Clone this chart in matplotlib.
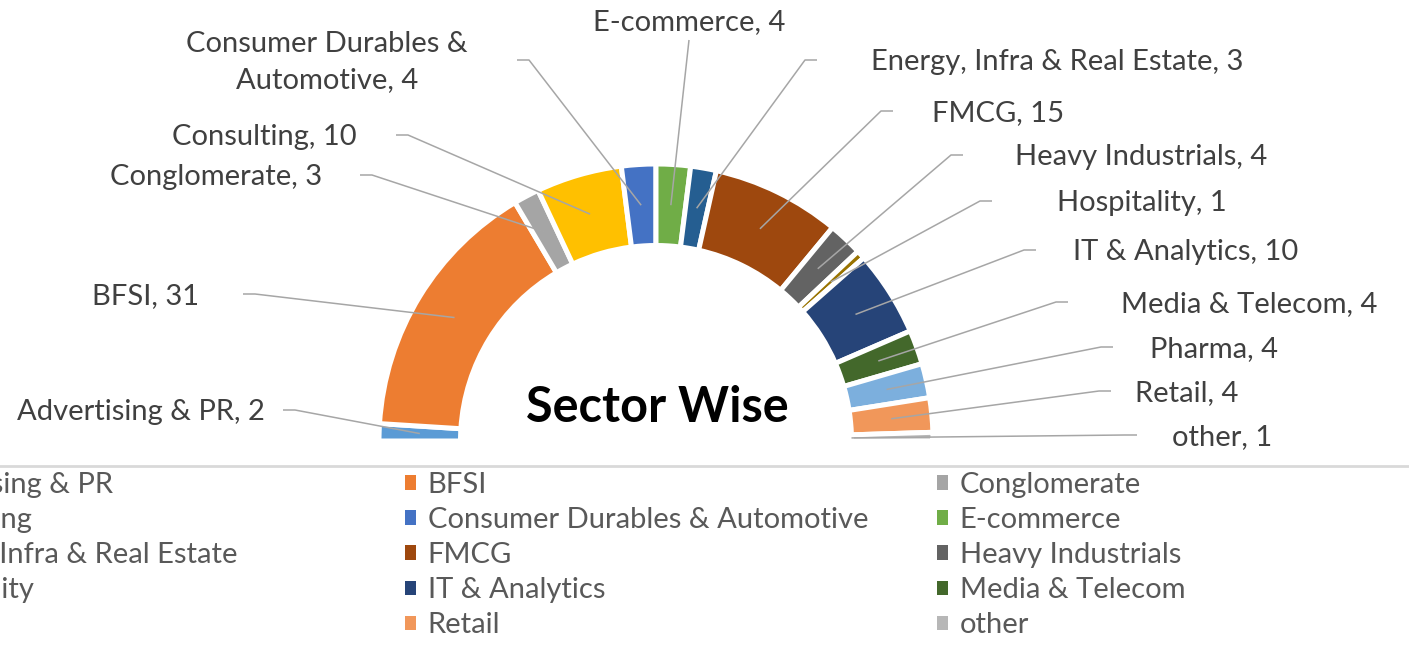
import matplotlib
matplotlib.use("Agg")
import matplotlib.pyplot as plt
import numpy as np

plt.rcParams['font.family'] = ['Lato', 'DejaVu Sans']

# data
sectors = ["Advertising & PR", "BFSI", "Conglomerate", "Consulting",
           "Consumer Durables & Automotive", "E-commerce",
           "Energy, Infra & Real Estate", "FMCG", "Heavy Industrials",
           "Hospitality", "IT & Analytics", "Media & Telecom", "Pharma",
           "Retail", "other"]
counts = [2, 31, 3, 10, 4, 4, 3, 15, 4, 1, 10, 4, 4, 4, 1]
colors = ["#5B9BD5", "#ED7D31", "#A5A5A5", "#FFC000", "#4472C4", "#70AD47",
          "#255E91", "#9E480E", "#636363", "#997300", "#264478", "#43682B",
          "#7CAFDD", "#F1975A", "#B7B7B7"]
title = "Sector Wise"

# layout (pixels, measured from top-left of the 1409x670 picture)
W, H = 1409, 670
CX, CY = 656, 441
RPX = 277.0
RING = 81.5 / RPX
# text x, text y, alignment, x where the leader line starts
label_pos = [
    (265, 412, 'right', 283),
    (199, 296, 'right', 243),
    (322, 177, 'right', 360),
    (357, 137, 'right', 396),
    (327, 62, 'center', 517),
    (689, 22, 'center', None),
    (871, 62, 'left', 817),
    (932, 113, 'left', 893),
    (1015, 157, 'left', 963),
    (1057, 203, 'left', 992),
    (1073, 252, 'left', 1036),
    (1121, 304, 'left', 1068),
    (1150, 349, 'left', 1113),
    (1135, 393, 'left', 1111),
    (1172, 437, 'left', 1137),
]
FS = 21


def px(x, y):
    return ((x - CX) / RPX, (CY - y) / RPX)


fig = plt.figure(figsize=(W / 100, H / 100), dpi=100)
ax = fig.add_axes([0, 0, 1, 1])

total = sum(counts)
wedges, _ = ax.pie(counts + [total], colors=colors + ['white'],
                   startangle=180, counterclock=False, radius=1.0,
                   wedgeprops=dict(width=RING, edgecolor='white', linewidth=3.6))
wedges[-1].set_visible(False)
wedges = wedges[:-1]

ax.set_xlim(px(0, 0)[0], px(W, 0)[0])
ax.set_ylim(px(0, H)[1], px(0, 0)[1])
ax.set_aspect('auto')
ax.axis('off')

# data labels with leader lines
for i, w in enumerate(wedges):
    name = sectors[i]
    if name.startswith("Consumer"):
        name = "Consumer Durables &\nAutomotive"
    txt = f"{name}, {counts[i]}"
    tx, ty, ha, lx = label_pos[i]
    ax.text(*px(tx, ty), txt, ha=ha, va='center', fontsize=FS,
            color='#404040', linespacing=1.52)
    mid = np.deg2rad((w.theta1 + w.theta2) / 2)
    rm = w.r - w.width / 2
    if sectors[i] == "other":
        rm = w.r - w.width
    ex, ey = rm * np.cos(mid), rm * np.sin(mid)
    if lx is None:
        sx, sy = px(tx, ty + 18)
        xs, ys = [sx, ex], [sy, ey]
    else:
        ly = 60 if i == 4 else ty - 2
        bx = lx + 12 if ha in ('right', 'center') else lx - 12
        p0 = px(lx, ly)
        p1 = px(bx, ly)
        xs, ys = [p0[0], p1[0], ex], [p0[1], p1[1], ey]
    ax.plot(xs, ys, color='#A6A6A6', lw=1.1, solid_capstyle='butt')

ax.text(*px(657, 408), title, ha='center', va='center', fontsize=35,
        fontweight='bold', color='black')

# separator line above legend
fig.add_artist(plt.Line2D([0, 1], [1 - 466 / H, 1 - 466 / H],
                          transform=fig.transFigure, color='#D9D9D9', lw=2))

# legend, three equal columns
col_x = [-127, 405, 937]
for c in range(3):
    idx = list(range(c, len(sectors), 3))
    leg = fig.legend([wedges[k] for k in idx], [sectors[k] for k in idx],
                     loc='upper left', bbox_to_anchor=(col_x[c] / W, 1 - 472 / H),
                     bbox_transform=fig.transFigure, frameon=False,
                     borderpad=0, borderaxespad=0, fontsize=FS,
                     handlelength=0.38, handleheight=0.38, handletextpad=0.4,
                     labelspacing=0.31, labelcolor='#595959')
    for h in leg.legend_handles:
        h.set_edgecolor('none')

fig.savefig("out.png", dpi=100)
